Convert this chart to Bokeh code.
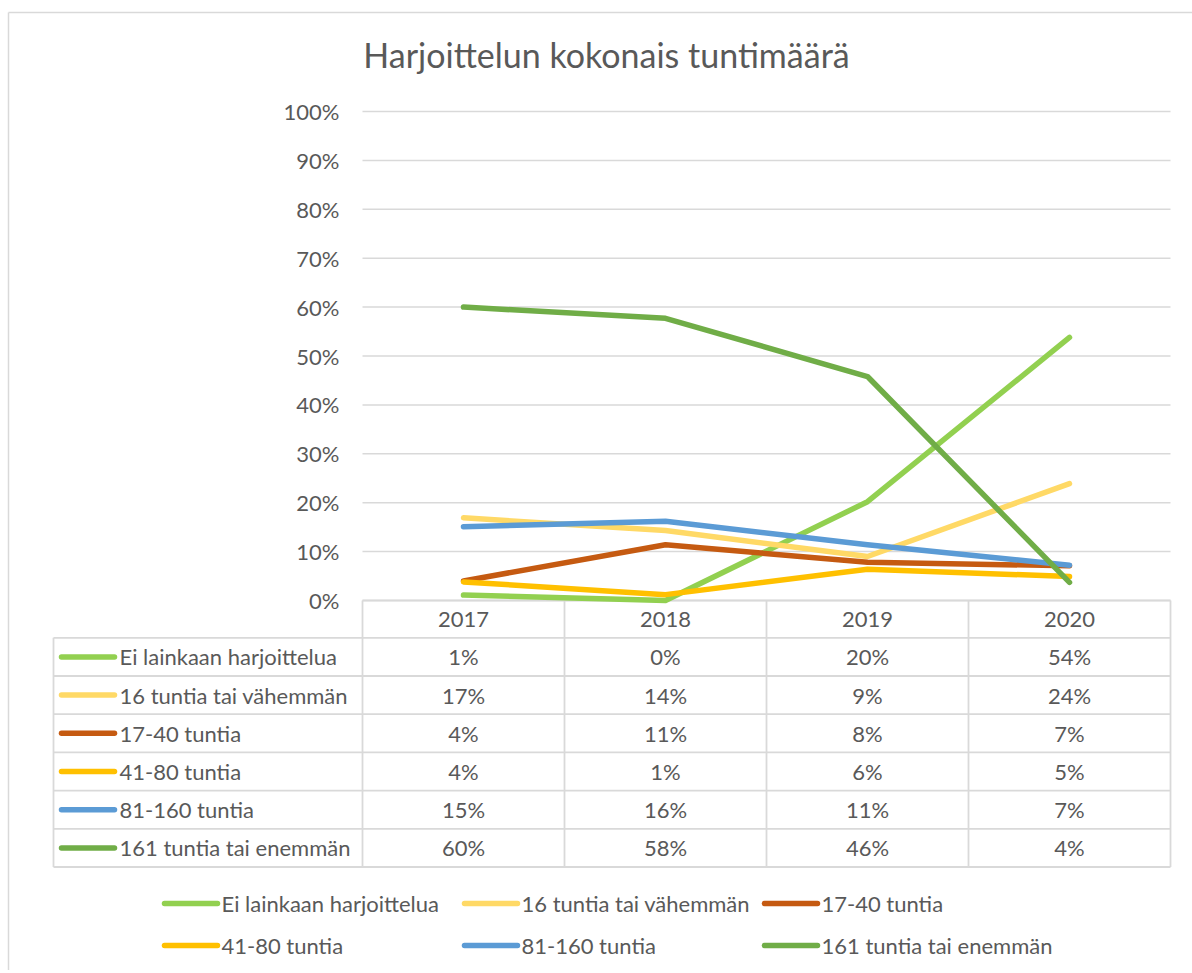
from bokeh.plotting import figure
from bokeh.models import Range1d, ColumnDataSource
from bokeh.core.properties import value
from bokeh.embed import file_html
from bokeh.resources import INLINE

# ---------------- data ----------------
title_text = "Harjoittelun kokonais tuntimäärä"
years = ["2017", "2018", "2019", "2020"]
series_names = [
    "Ei lainkaan harjoittelua",
    "16 tuntia tai vähemmän",
    "17-40 tuntia",
    "41-80 tuntia",
    "81-160 tuntia",
    "161 tuntia tai enemmän",
]
ei_lainkaan = [1.1, 0.0, 20.2, 53.8]
alle_16 = [16.9, 14.3, 9.0, 23.9]
t17_40 = [4.0, 11.4, 7.8, 7.1]
t41_80 = [3.8, 1.2, 6.4, 4.9]
t81_160 = [15.1, 16.2, 11.4, 7.2]
yli_161 = [60.0, 57.7, 45.8, 3.7]
series_values = [ei_lainkaan, alle_16, t17_40, t41_80, t81_160, yli_161]
colors = ["#92D050", "#FFD966", "#C55A11", "#FFC000", "#5B9BD5", "#70AD47"]
y_ticks = [0, 10, 20, 30, 40, 50, 60, 70, 80, 90, 100]
y_tick_labels = [f"{t}%" for t in y_ticks]

# ---------------- layout (page pixels -> data units) ----------------
W, H = 1192, 970
PAGE_OFF = 0
X0, CW = 362.0, 202.0          # page x of category start, px per category
Y0, PPU = 600.0, 4.89          # page y of 0%, px per percent


def dx(px):
    return (px - X0) / CW


def dy(py):
    return (Y0 - py) / PPU


FONT = value("Lato")
TXT = "#595959"
GRID = "#d9d9d9"
FS = "22px"

p = figure(width=W, height=H, output_backend="svg", toolbar_location=None,
           x_range=Range1d(dx(PAGE_OFF), dx(PAGE_OFF + W)),
           y_range=Range1d(dy(PAGE_OFF + H), dy(PAGE_OFF)),
           min_border=0, outline_line_color=None, border_fill_color="white")
p.axis.visible = False
p.grid.visible = False
p.background_fill_color = "white"

ncat = len(years)
xs_cat = [i + 0.5 for i in range(ncat)]

# outer chart border (left & top)
p.segment(x0=[dx(8), dx(8)], y0=[dy(12), dy(12)],
          x1=[dx(8), dx(1300)], y1=[dy(1100), dy(12)],
          line_color=GRID, line_width=1.5)

# gridlines
p.segment(x0=[0] * len(y_ticks), y0=y_ticks, x1=[ncat] * len(y_ticks), y1=y_ticks,
          line_color=GRID, line_width=1.5)
# y tick labels
p.text(x=[dx(339)] * len(y_ticks), y=y_ticks, text=y_tick_labels,
       text_font=FONT, text_font_size=FS, text_color=TXT,
       text_align="right", text_baseline="middle")

# title
p.text(x=[dx(606)], y=[dy(54)], text=[title_text], text_font=FONT,
       text_font_size="34px", text_color=TXT, text_align="center",
       text_baseline="middle")

# ---------------- data table ----------------
hdr_bottom = 637.3
row_h = 38.2
nrows = len(series_names)
table_bottom = hdr_bottom + nrows * row_h
# horizontal rules
hy = [hdr_bottom + k * row_h for k in range(nrows + 1)]
p.segment(x0=[dx(53)] * len(hy), y0=[dy(v) for v in hy],
          x1=[ncat] * len(hy), y1=[dy(v) for v in hy],
          line_color=GRID, line_width=1.8)
# vertical rules
vx = list(range(ncat + 1))
p.segment(x0=vx, y0=[0] * len(vx), x1=vx, y1=[dy(table_bottom)] * len(vx),
          line_color=GRID, line_width=1.8)
p.segment(x0=[dx(53)], y0=[dy(hdr_bottom)], x1=[dx(53)], y1=[dy(table_bottom)],
          line_color=GRID, line_width=1.8)
# header years
p.text(x=xs_cat, y=[dy((Y0 + hdr_bottom) / 2)] * ncat, text=years,
       text_font=FONT, text_font_size=FS, text_color=TXT,
       text_align="center", text_baseline="middle")

for r, (name, vals, col) in enumerate(zip(series_names, series_values, colors)):
    cy = dy(hdr_bottom + (r + 0.5) * row_h)
    p.line(x=[dx(61), dx(114)], y=[cy, cy], line_color=col, line_width=5.5,
           line_cap="round")
    p.text(x=[dx(119)], y=[cy], text=[name], text_font=FONT,
           text_font_size=FS, text_color=TXT, text_align="left",
           text_baseline="middle")
    p.text(x=xs_cat, y=[cy] * ncat, text=[f"{v:.0f}%" for v in vals],
           text_font=FONT, text_font_size=FS, text_color=TXT,
           text_align="center", text_baseline="middle")

# axis line (0%)
p.segment(x0=[0], y0=[0], x1=[ncat], y1=[0], line_color=GRID, line_width=1.8)

# ---------------- series lines ----------------
for name, vals, col in zip(series_names, series_values, colors):
    src = ColumnDataSource(dict(x=xs_cat, y=vals))
    p.line("x", "y", source=src, line_color=col, line_width=5.5,
           line_cap="round", line_join="round")

# ---------------- bottom legend ----------------
leg_x = [162, 462, 762]
leg_y = [903, 945]
for k, (name, col) in enumerate(zip(series_names, colors)):
    lx = leg_x[k % 3]
    ly = dy(leg_y[k // 3])
    p.line(x=[dx(lx + 2), dx(lx + 55)], y=[ly, ly], line_color=col,
           line_width=5.5, line_cap="round")
    p.text(x=[dx(lx + 59)], y=[ly], text=[name], text_font=FONT,
           text_font_size=FS, text_color=TXT, text_align="left",
           text_baseline="middle")

open("out.html", "w").write(file_html(p, INLINE))
